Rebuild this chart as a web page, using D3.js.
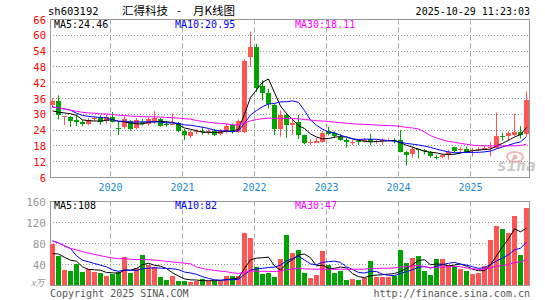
<!DOCTYPE html>
<html>
<head>
<meta charset="utf-8">
<script src="https://cdn.jsdelivr.net/npm/d3@7"></script>
<style>
  html, body { margin: 0; padding: 0; background: #fff; }
  svg { display: block; }
  text { font-family: "DejaVu Sans Mono", "Liberation Mono", monospace; }
  .cjk { font-family: "Noto Sans CJK SC", sans-serif; }
</style>
</head>
<body>
<div id="chart"></div>
<script>

// ----------------------------------------------------------------
// Data (monthly, 2019-03 .. 2025-10)
// ----------------------------------------------------------------

const opens  = [33.4,34.9,28.8,28.8,27.8,27.1,26.5,28.0,28.6,27.3,28.9,24.9,25.0,27.3,24.6,27.2,26.4,27.6,28.4,26.5,
                26.0,26.6,23.6,21.9,23.1,23.6,23.2,23.8,22.3,23.2,25.9,23.1,23.3,51.7,55.4,40.7,37.9,33.4,24.4,29.7,
                26.0,26.9,22.1,19.1,19.3,19.6,23.6,22.8,21.5,20.2,19.1,19.8,19.8,20.6,19.3,19.8,20.0,20.4,20.2,15.8,
                14.8,16.8,16.3,15.8,13.7,13.5,14.6,17.6,16.3,16.7,16.2,16.5,16.9,17.2,17.3,21.7,21.5,22.1,23.4,22.2];
const highs  = [36.2,37.2,29.3,29.3,29.9,27.8,28.5,29.2,29.6,29.8,30.9,27.1,29.2,27.8,28.6,28.2,28.8,31.2,28.6,27.5,
                30.3,27.1,24.4,23.8,24.4,25.2,24.4,24.4,24.4,26.5,26.5,28.0,51.0,61.4,56.8,42.9,39.7,34.1,31.5,30.5,
                27.8,29.7,22.3,20.6,21.0,23.6,25.2,23.5,22.5,21.0,20.2,20.2,20.9,22.7,20.5,20.9,21.0,20.9,24.0,16.0,
                17.8,17.0,16.8,16.1,14.5,14.8,16.6,17.6,17.5,17.8,17.3,17.5,18.0,19.6,30.7,23.0,23.5,30.3,25.5,38.7];
const lows   = [32.5,28.0,25.9,25.2,25.6,25.4,25.9,27.6,26.0,26.5,26.9,22.1,24.5,23.8,24.2,25.8,25.6,26.4,25.3,25.3,
                25.9,23.2,20.2,21.0,22.3,22.2,22.2,21.7,21.9,22.8,22.7,22.9,22.9,48.0,38.5,35.3,32.2,22.1,21.5,21.1,
                22.1,20.6,18.6,18.3,19.2,19.2,22.0,21.0,19.9,17.3,18.3,18.3,19.3,18.3,18.8,18.3,19.5,19.0,15.6,10.5,
                13.5,13.2,14.8,13.5,12.8,13.3,12.8,15.4,15.6,15.2,14.0,16.0,16.3,14.0,17.0,20.0,20.0,21.8,20.8,21.5];
const closes = [34.9,29.4,29.2,27.4,27.1,26.3,28.0,28.5,27.1,29.0,27.1,24.5,28.2,24.4,27.8,26.6,28.2,28.6,25.9,26.1,
                26.4,23.6,22.1,23.4,23.5,23.2,23.5,22.1,23.6,25.6,23.2,27.4,50.4,55.4,39.7,37.9,33.7,24.4,29.7,25.9,
                26.6,21.8,19.0,19.5,20.0,23.0,22.4,21.8,20.4,19.3,19.5,19.4,20.2,19.3,19.8,20.2,20.3,20.0,15.8,14.8,
                16.8,16.3,15.9,14.3,13.4,14.4,15.8,16.1,16.8,15.6,16.6,16.9,17.3,17.5,21.8,21.3,22.8,23.4,22.2,35.3];
// volume, 万手
const volumes = [79,55.5,29,27.5,40.5,25.6,30.5,25.6,23.7,18.7,22.4,26,55,24,34,59,40,35.5,16.3,10.6,
                 18.7,8.8,8.8,6.9,8.8,12.5,8.8,8.8,8.8,18.1,18.1,18.1,100,89.6,35,21.8,23.7,16.2,49.8,96.5,
                 61,68.5,23.7,14.4,20,66.6,38.6,23.7,27.4,10.6,12.5,10.6,13.8,46,16.2,16.2,16.2,18.7,68.5,42.4,
                 52.3,55.4,27.4,20,49.8,49.8,38.6,36.8,31.2,27.4,21.8,23.7,36.8,87,113,107.7,100,132,59,147];

// months before the window (2018-09 .. 2019-02), only used for the moving averages
const preCloses = [38.5,34.6,32.0,30.5,29.0,30.1];
const preVolumes = [180,110,60,60,55,50];

const priceTicks = [6,12,18,24,30,36,42,48,54,60,66];
const volumeTicks = [40,80,120,160];
const years = [2020,2021,2022,2023,2024,2025];

const priceMaLabels = ["MA5:24.46","MA10:20.95","MA30:18.11"];
const volumeMaLabels = ["MA5:108","MA10:82","MA30:47"];
const maColors = ["#000000","#0000ff","#ff00ff"];
const maPeriods = [5,10,30];

const upColor = "#ff5555";
const downColor = "#00a400";

// -----------------------------------------------------------------------------
// Functions
// -----------------------------------------------------------------------------

// moving average with whatever history is available
function movingAverage(values, pre, n) {
  var all = pre.concat(values);
  return values.map(function (v, i) {
    var end = pre.length + i;
    var start = Math.max(0, end - n + 1);
    return d3.mean(all.slice(start, end + 1));
  });
}

const months = d3.timeMonth.range(new Date(2019, 2, 1), new Date(2025, 10, 1));

const width = 545, height = 300;
const left = 50, right = 529;

const svg = d3.select("#chart").append("svg")
  .attr("width", width)
  .attr("height", height);

const x = d3.scaleBand()
  .domain(d3.range(months.length))
  .range([49, 529]);

const yPrice = d3.scaleLinear().domain([6, 66]).range([177.5, 19.5]);
const yVol = d3.scaleLinear().domain([0, 160]).range([285.5, 201.5]);

function snap(v) { return Math.round(v - 0.5) + 0.5; }

const yearIdx = years.map(function (yr) {
  return months.findIndex(function (m) { return m.getFullYear() === yr && m.getMonth() === 0; });
});

// draws frame, grid and year lines for one panel
function drawPanel(y, ticks, top, bottom) {
  var g = svg.append("g");
  g.selectAll("line.grid")
    .data(ticks.filter(function (t) { return y(t) > top + 1 && y(t) < bottom - 1; }))
    .enter().append("line")
    .attr("x1", left).attr("x2", right)
    .attr("y1", function (d) { return snap(y(d)); })
    .attr("y2", function (d) { return snap(y(d)); })
    .attr("stroke", "#999").attr("stroke-dasharray", "1,2");
  g.selectAll("line.year")
    .data(yearIdx)
    .enter().append("line")
    .attr("x1", function (d) { return x(d) + 1.5; })
    .attr("x2", function (d) { return x(d) + 1.5; })
    .attr("y1", top).attr("y2", bottom)
    .attr("stroke", "#aaa").attr("stroke-dasharray", "5,3");
  g.append("rect")
    .attr("x", left + 0.5).attr("y", top)
    .attr("width", right - left).attr("height", bottom - top)
    .attr("fill", "none").attr("stroke", "#999");
  return g;
}

function drawMaLines(g, series, y) {
  maPeriods.forEach(function (p, k) {
    g.append("path")
      .datum(series[k])
      .attr("fill", "none")
      .attr("stroke", maColors[k])
      .attr("stroke-width", 1)
      .attr("d", d3.line()
        .x(function (d, i) { return x(i) + 3.5; })
        .y(function (d) { return y(d); }));
  });
}

function drawMaLabels(labels, baseline) {
  var xs = [54, 175, 295];
  labels.forEach(function (t, k) {
    svg.append("text")
      .attr("x", xs[k]).attr("y", baseline)
      .attr("font-size", 10)
      .attr("fill", maColors[k])
      .text(t);
  });
}

// ----------------------------------------------------------------
// Header
// ----------------------------------------------------------------

svg.append("text").attr("x", 48).attr("y", 15).attr("font-size", 10.5).attr("fill", "#000").text("sh603192");
svg.append("text").attr("class", "cjk").attr("x", 122).attr("y", 15).attr("font-size", 11.5).attr("fill", "#000").text("汇得科技");
svg.append("text").attr("class", "cjk").attr("x", 177).attr("y", 15).attr("font-size", 11.5).attr("fill", "#000").text("-");
svg.append("text").attr("class", "cjk").attr("x", 193).attr("y", 15).attr("font-size", 11.5).attr("fill", "#000").text("月K线图");
svg.append("text").attr("x", 530).attr("y", 15).attr("text-anchor", "end").attr("font-size", 10).attr("fill", "#000").text("2025-10-29 11:23:03");

// ----------------------------------------------------------------
// Price panel
// ----------------------------------------------------------------

const pricePanel = drawPanel(yPrice, priceTicks, 19.5, 177.5);

svg.selectAll("text.ptick")
  .data(priceTicks)
  .enter().append("text")
  .attr("x", 46).attr("y", function (d) { return yPrice(d) + 4; })
  .attr("text-anchor", "end")
  .attr("font-size", 10.5)
  .attr("fill", "#ff0000")
  .text(function (d) { return d; });

svg.selectAll("text.year")
  .data(years)
  .enter().append("text")
  .attr("x", function (d, k) { return x(yearIdx[k]) + 1.5; })
  .attr("y", 191)
  .attr("text-anchor", "middle")
  .attr("font-size", 10)
  .attr("fill", "#1a8ae0")
  .text(function (d) { return d; });

// sina watermark
const mark = pricePanel.append("g").attr("opacity", 0.45);
mark.append("ellipse").attr("cx", 515).attr("cy", 157).attr("rx", 8).attr("ry", 5)
  .attr("fill", "none").attr("stroke", "#f06060").attr("stroke-width", 2);
mark.append("circle").attr("cx", 515).attr("cy", 157).attr("r", 2.5).attr("fill", "#f06060");
mark.append("text").attr("x", 497).attr("y", 171).attr("font-family", "DejaVu Sans")
  .attr("font-size", 16).attr("font-weight", "bold").attr("font-style", "italic")
  .attr("fill", "#888").text("sina");

const candles = pricePanel.append("g");
const isUp = closes.map(function (c, i) { return c >= opens[i]; });

candles.selectAll("line.wick")
  .data(closes)
  .enter().append("line")
  .attr("x1", function (d, i) { return x(i) + 3.5; })
  .attr("x2", function (d, i) { return x(i) + 3.5; })
  .attr("y1", function (d, i) { return yPrice(highs[i]); })
  .attr("y2", function (d, i) { return yPrice(lows[i]); })
  .attr("stroke", function (d, i) { return isUp[i] ? upColor : downColor; });

candles.selectAll("rect.body")
  .data(closes)
  .enter().append("rect")
  .attr("x", function (d, i) { return x(i) + 1; })
  .attr("width", 5)
  .attr("y", function (d, i) { return Math.round(yPrice(Math.max(d, opens[i]))); })
  .attr("height", function (d, i) { return Math.max(1, Math.round(Math.abs(yPrice(d) - yPrice(opens[i])))); })
  .attr("fill", function (d, i) { return isUp[i] ? upColor : downColor; });

drawMaLines(pricePanel, maPeriods.map(function (p) { return movingAverage(closes, preCloses, p); }), yPrice);
drawMaLabels(priceMaLabels, 28);

// ----------------------------------------------------------------
// Volume panel
// ----------------------------------------------------------------

const volPanel = drawPanel(yVol, volumeTicks, 201.5, 285.5);

svg.selectAll("text.vtick")
  .data(volumeTicks)
  .enter().append("text")
  .attr("x", 46).attr("y", function (d) { return yVol(d) + 4; })
  .attr("text-anchor", "end")
  .attr("font-size", 11)
  .attr("fill", "#999")
  .text(function (d) { return d; });

svg.append("text").attr("class", "cjk").attr("x", 31).attr("y", 286)
  .attr("font-size", 9).attr("font-style", "italic").attr("fill", "#999").text("x万");

volPanel.selectAll("rect.vol")
  .data(volumes)
  .enter().append("rect")
  .attr("x", function (d, i) { return x(i) + 1; })
  .attr("width", 5)
  .attr("y", function (d) { return Math.round(yVol(d)); })
  .attr("height", function (d) { return 285 - Math.round(yVol(d)); })
  .attr("fill", function (d, i) { return isUp[i] ? upColor : downColor; });

drawMaLines(volPanel, maPeriods.map(function (p) { return movingAverage(volumes, preVolumes, p); }), yVol);
drawMaLabels(volumeMaLabels, 209);

// ----------------------------------------------------------------
// Footer
// ----------------------------------------------------------------

svg.append("text").attr("x", 50).attr("y", 297).attr("font-size", 10).attr("fill", "#555").text("Copyright 2025 SINA.COM");
svg.append("text").attr("x", 530).attr("y", 297).attr("text-anchor", "end").attr("font-size", 10).attr("fill", "#555").text("http://finance.sina.com.cn");

</script>
</body>
</html>
